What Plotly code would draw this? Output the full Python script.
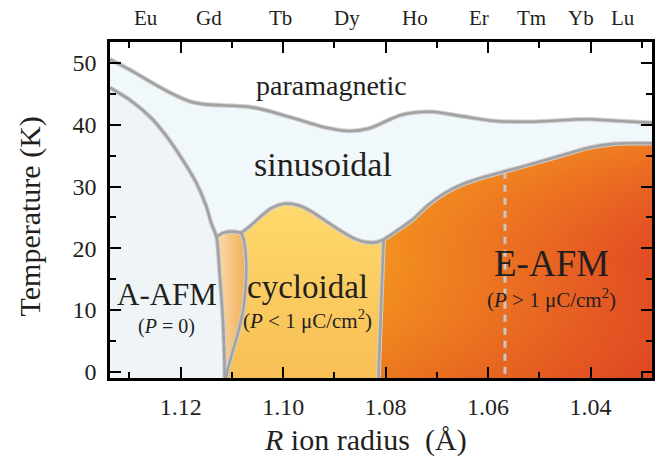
import plotly.graph_objects as go

# ---------------- data (ion radius in Å, temperature in K) ----------------
para_r = [1.1338, 1.1299, 1.1260, 1.1221, 1.1183, 1.1153, 1.1066, 1.1018, 1.0969, 1.0920,
          1.0872, 1.0833, 1.0769, 1.0711, 1.0652, 1.0586, 1.0509, 1.0412, 1.0342, 1.0280]
para_T = [50.6, 48.9, 47.0, 45.2, 43.8, 43.3, 42.9, 42.0, 40.8, 39.6,
          39.0, 39.4, 41.6, 42.1, 41.4, 40.6, 40.5, 40.9, 40.6, 40.3]

aafm_r = [1.1338, 1.1299, 1.1260, 1.1231, 1.1196, 1.1169, 1.1151, 1.1140, 1.1130,
          1.1124, 1.1118, 1.1115, 1.1114]
aafm_T = [46.0, 44.0, 41.3, 38.5, 34.3, 30.5, 27.0, 24.0, 21.8, 16.0, 9.0, 3.0, -1.0]

wedge_top_r = [1.1130, 1.1117, 1.1099, 1.1082]
wedge_top_T = [21.8, 22.5, 22.7, 22.5]
wedge_side_r = [1.1082, 1.1076, 1.1072, 1.1074, 1.1078, 1.1089, 1.1103, 1.1109, 1.1111]
wedge_side_T = [22.5, 21.0, 17.0, 13.0, 10.0, 6.0, 2.0, 0.0, -1.0]

cyc_top_r = [1.1082, 1.1066, 1.1047, 1.1023, 1.0998, 1.0973, 1.0950, 1.0920, 1.0891,
             1.0862, 1.0839, 1.0817, 1.0804]
cyc_top_T = [22.5, 23.5, 24.9, 26.5, 27.2, 27.0, 26.2, 24.6, 23.0, 21.6, 21.0, 21.0, 21.4]
cyc_side_r = [1.0804, 1.0814]
cyc_side_T = [21.4, -1.0]

eafm_r = [1.0804, 1.0784, 1.0748, 1.0717, 1.0683, 1.0649, 1.0617, 1.0565, 1.0487,
          1.0445, 1.0402, 1.0355, 1.0318, 1.0280]
eafm_T = [21.4, 22.5, 24.6, 27.0, 29.0, 30.4, 31.3, 32.5, 34.3, 35.3, 36.3, 36.9, 37.0, 37.0]

dash_r = [1.0567, 1.0567]
dash_T = [32.4, -1.0]

elements = ["Eu", "Gd", "Tb", "Dy", "Ho", "Er", "Tm", "Yb", "Lu"]
element_r = [1.1268, 1.1144, 1.1006, 1.0876, 1.0742, 1.0617, 1.0515, 1.0419, 1.0336]

x_range = [1.1338, 1.0280]
y_range = [-1.0, 53.4]

FONT = "Liberation Serif, Times New Roman, serif"
TXT = "#231f20"

fig = go.Figure()
xmin_r, xmax_r = x_range[1], x_range[0]
ybot = y_range[0]

# sinusoidal region (below paramagnetic line)
fig.add_trace(go.Scatter(
    x=para_r + [xmin_r, xmax_r], y=para_T + [ybot, ybot],
    fill="toself", fillcolor="#f1f8fc", mode="none", hoverinfo="skip"))

# A-AFM region
fig.add_trace(go.Scatter(
    x=aafm_r + [xmax_r], y=aafm_T + [ybot],
    fill="toself", fillcolor="#eff5f6", mode="none", hoverinfo="skip"))

# small wedge region (light on the left, darker on the right)
wedge_left_r = aafm_r[8:][::-1]
wedge_left_T = aafm_T[8:][::-1]
fig.add_trace(go.Scatter(
    x=wedge_top_r + wedge_side_r[1:] + wedge_left_r,
    y=wedge_top_T + wedge_side_T[1:] + wedge_left_T,
    fill="toself", mode="none", hoverinfo="skip",
    fillgradient=dict(type="horizontal",
                      colorscale=[[0, "#fbdcad"], [1, "#f0ad55"]])))

# cycloidal region
fig.add_trace(go.Scatter(
    x=cyc_top_r + cyc_side_r[1:] + wedge_side_r[::-1],
    y=cyc_top_T + cyc_side_T[1:] + wedge_side_T[::-1],
    fill="toself", mode="none", hoverinfo="skip",
    fillgradient=dict(type="vertical",
                      colorscale=[[0, "#f8bf55"], [1, "#fed96d"]])))

# E-AFM region (two gradient layers for a diagonal look)
eafm_poly_r = eafm_r + [xmin_r] + cyc_side_r[::-1]
eafm_poly_T = eafm_T + [ybot] + cyc_side_T[::-1]
fig.add_trace(go.Scatter(
    x=eafm_poly_r, y=eafm_poly_T, fill="toself", mode="none", hoverinfo="skip",
    fillgradient=dict(type="horizontal",
                      colorscale=[[0, "#f3921f"], [1, "#e14b24"]])))
fig.add_trace(go.Scatter(
    x=eafm_poly_r, y=eafm_poly_T, fill="toself", mode="none", hoverinfo="skip",
    fillgradient=dict(type="vertical",
                      colorscale=[[0, "rgba(215,60,30,0.30)"], [0.5, "rgba(240,120,35,0.0)"],
                                  [1, "rgba(255,180,30,0.45)"]])))

# dashed line
fig.add_trace(go.Scatter(x=dash_r, y=dash_T, mode="lines", hoverinfo="skip",
                         line=dict(color="#c8c8c8", width=3, dash="7px,6px")))

# boundary lines (soft halo + core)
boundaries = [(para_r, para_T), (aafm_r, aafm_T),
              (wedge_top_r, wedge_top_T), (wedge_side_r, wedge_side_T),
              (cyc_top_r, cyc_top_T), (cyc_side_r, cyc_side_T),
              (eafm_r, eafm_T)]
for color, width in [("#cfcfcf", 4.6), ("#a2a2a2", 2.6)]:
    for xs, ys in boundaries:
        fig.add_trace(go.Scatter(x=xs, y=ys, mode="lines", hoverinfo="skip",
                                 line=dict(color=color, width=width, shape="spline",
                                           smoothing=0.8)))

# region labels
def lab(text, x, y, size):
    fig.add_annotation(x=x, y=y, xref="x", yref="y", text=text, showarrow=False,
                       xanchor="center", yanchor="middle",
                       font=dict(family=FONT, size=size, color=TXT))

lab("paramagnetic", 1.0905, 46.4, 28)
lab("sinusoidal", 1.0922, 33.6, 34)
lab("A-AFM", 1.1227, 12.6, 31)
lab("(<i>P</i> = 0)", 1.1227, 7.3, 20)
lab("cycloidal", 1.0953, 13.8, 33)
lab("(<i>P</i> < 1 μC/cm<sup>2</sup>)", 1.0953, 8.4, 21)
lab("E-AFM", 1.0476, 17.6, 37)
lab("(<i>P</i> > 1 μC/cm<sup>2</sup>)", 1.0476, 11.8, 21)

# element labels on top
for el, r in zip(elements, element_r):
    fig.add_annotation(x=r, y=1.0714, xref="x", yref="paper", text=el, showarrow=False,
                       xanchor="center", yanchor="middle",
                       font=dict(family=FONT, size=21, color=TXT))

# axis titles
fig.add_annotation(x=-0.1468, y=0.482, xref="paper", yref="paper", text="Temperature (K)",
                   textangle=-90, showarrow=False, xanchor="center", yanchor="middle",
                   font=dict(family=FONT, size=30, color=TXT))
fig.add_annotation(x=0.4716, y=-0.1845, xref="paper", yref="paper",
                   text="<i>R</i> ion radius  (Å)", showarrow=False,
                   xanchor="center", yanchor="middle",
                   font=dict(family=FONT, size=30, color=TXT))

axis_common = dict(showline=True, linecolor="black", linewidth=2.5, mirror="ticks",
                   ticks="inside", tickcolor="black", tickwidth=2, ticklen=11,
                   showgrid=False, zeroline=False,
                   tickfont=dict(family=FONT, size=24, color=TXT))

fig.update_layout(
    width=659, height=470,
    margin=dict(l=110, r=4, t=42, b=92),
    paper_bgcolor="white", plot_bgcolor="white",
    showlegend=False,
    xaxis=dict(range=x_range, tick0=1.0, dtick=0.02, tickformat=".2f",
               minor=dict(dtick=0.01, ticks="inside", ticklen=6, tickwidth=2, tickcolor="black"),
               ticklabelstandoff=5, **axis_common),
    yaxis=dict(range=y_range, tick0=0, dtick=10,
               minor=dict(dtick=5, ticks="inside", ticklen=6, tickwidth=2, tickcolor="black"),
               ticklabelstandoff=6, **axis_common),
)

fig.write_html("out.html")
